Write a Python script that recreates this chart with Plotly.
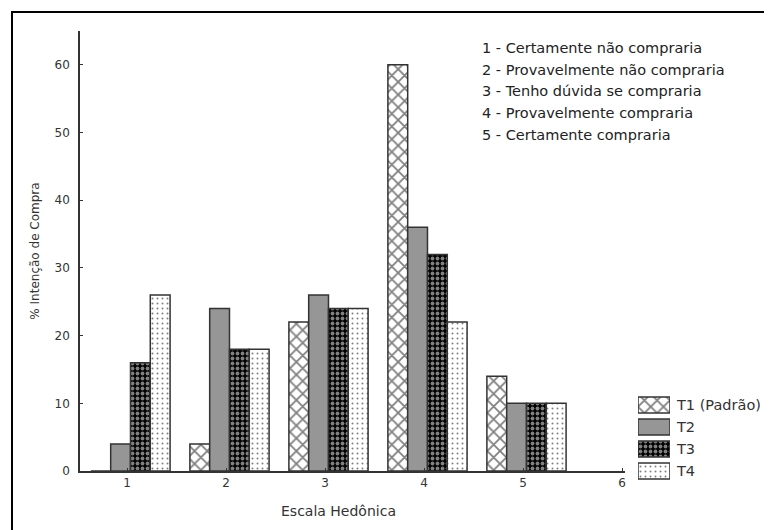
import plotly.graph_objects as go

categories = [1, 2, 3, 4, 5]
series_names = ["T1 (Padrão)", "T2", "T3", "T4"]
t1 = [0, 4, 22, 60, 14]
t2 = [4, 24, 26, 36, 10]
t3 = [16, 18, 24, 32, 10]
t4 = [26, 18, 24, 22, 10]
series_values = [t1, t2, t3, t4]
x_ticks = [1, 2, 3, 4, 5, 6]
y_ticks = [0, 10, 20, 30, 40, 50, 60]
scale_labels = [
    "1 - Certamente não compraria",
    "2 - Provavelmente não compraria",
    "3 - Tenho dúvida se compraria",
    "4 - Provavelmente compraria",
    "5 - Certamente compraria",
]
x_title = "Escala Hedônica"
y_title = "% Intenção de Compra"

FONT = "DejaVu Sans"
patterns = [
    dict(shape="x", size=9, solidity=0.35, fgcolor="black", bgcolor="white", fillmode="overlay"),
    dict(shape=".", size=2, solidity=0.8, fgcolor="black", bgcolor="white", fillmode="overlay"),
    dict(shape=".", size=5, solidity=0.45, fgcolor="white", bgcolor="black", fillmode="overlay"),
    dict(shape=".", size=5, solidity=0.12, fgcolor="black", bgcolor="white", fillmode="overlay"),
]
offsets = [-0.365, -0.165, 0.035, 0.235]

# page body has an 8px margin; figure placed at (8,8)
OFF = 8
W, H = 772 - OFF, 530 - OFF
ml, mr, mt, mb = 72, 2, 23, 40
pw, ph = W - ml - mr, H - mt - mb


def fx(p):
    return (p - OFF - ml) / pw


def fy(p):
    return (H - mb - (p - OFF)) / ph


fig = go.Figure()
for name, vals, pat, off in zip(series_names, series_values, patterns, offsets):
    fig.add_trace(go.Bar(
        x=categories, y=vals, name=name, width=0.2, offset=off,
        marker=dict(color="white", pattern=pat, line=dict(color="#333333", width=1.5)),
        showlegend=False, xaxis="x", yaxis="y",
    ))

# legend boxes drawn as a small side panel of horizontal bars
for name, pat in zip(series_names, patterns):
    fig.add_trace(go.Bar(
        y=[name], x=[1], orientation="h", width=0.73,
        marker=dict(color="white", pattern=pat, line=dict(color="#333333", width=1.5)),
        showlegend=False, xaxis="x2", yaxis="y2", hoverinfo="skip",
    ))

annotations = []
for i, t in enumerate(scale_labels):
    annotations.append(dict(
        text=t, x=fx(480), y=fy(48 + i * 21.7), xref="paper", yref="paper",
        xanchor="left", yanchor="middle", showarrow=False,
        font=dict(family=FONT, size=14.5, color="#222222"),
    ))
annotations.append(dict(
    text=x_title, x=fx(338), y=fy(511), xref="paper", yref="paper",
    xanchor="center", yanchor="middle", showarrow=False,
    font=dict(family=FONT, size=14, color="#333333"),
))

fig.update_layout(
    width=W, height=H,
    margin=dict(l=ml, r=mr, t=mt, b=mb, pad=0),
    plot_bgcolor="white", paper_bgcolor="white",
    barmode="overlay",
    font=dict(family=FONT, size=12, color="#333333"),
    showlegend=False,
    xaxis=dict(
        domain=[0, fx(625)], anchor="y",
        range=[0.525, 6.03], tickmode="array", tickvals=x_ticks,
        ticktext=[str(v) for v in x_ticks],
        showgrid=False, zeroline=False, showline=True, linecolor="#333333", linewidth=1.5,
        ticks="inside", ticklen=3, tickcolor="#333333",
        tickfont=dict(family=FONT, size=12, color="#333333"),
    ),
    yaxis=dict(
        domain=[fy(471), fy(31)], anchor="x",
        range=[0, 65], tickmode="array", tickvals=y_ticks,
        showgrid=False, zeroline=False, showline=True, linecolor="#333333", linewidth=1.5,
        ticks="inside", ticklen=3, tickcolor="#333333", ticklabelstandoff=6,
        tickfont=dict(family=FONT, size=12, color="#333333"),
        title=dict(text=y_title, standoff=12, font=dict(family=FONT, size=12, color="#333333")),
    ),
    xaxis2=dict(
        domain=[fx(638), fx(670)], anchor="y2", range=[0, 1], visible=False,
    ),
    yaxis2=dict(
        domain=[fy(482), fy(394)], anchor="x2", side="right",
        type="category", categoryorder="array", categoryarray=series_names[::-1],
        showgrid=False, zeroline=False, showline=False, ticks="",
        ticklabelstandoff=6,
        tickfont=dict(family=FONT, size=14.5, color="#333333"),
    ),
    annotations=annotations,
    shapes=[dict(
        type="rect", xref="paper", yref="paper",
        x0=fx(12), x1=fx(790), y0=fy(560), y1=fy(12),
        line=dict(color="black", width=2), fillcolor="rgba(0,0,0,0)", layer="below",
    )],
)

fig.write_html("out.html")
